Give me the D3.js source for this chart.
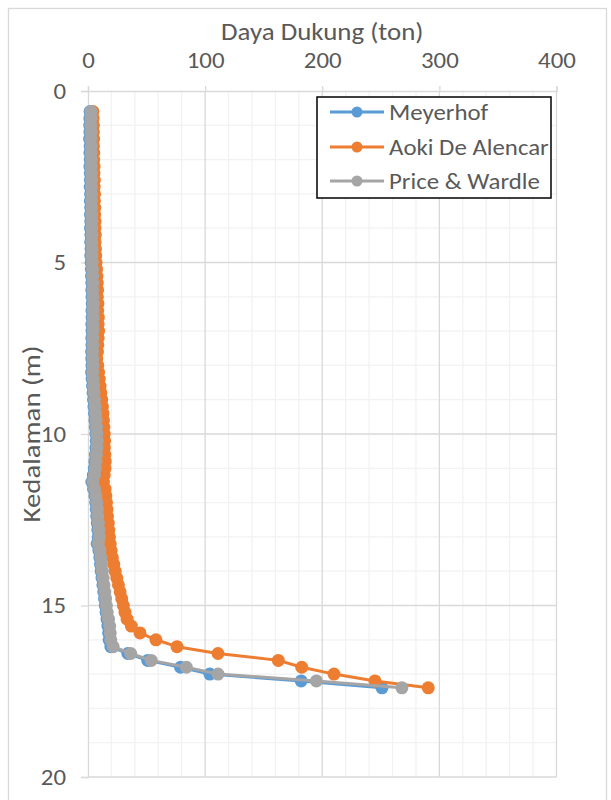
<!DOCTYPE html>
<html>
<head>
<meta charset="utf-8">
<script src="https://cdn.jsdelivr.net/npm/d3@7"></script>
<style>
  html, body { margin: 0; padding: 0; background: #fff; }
  svg { display: block; }
  text { font-family: Calibri, Carlito, Lato, "Open Sans", sans-serif; fill: #595959; }
</style>
</head>
<body>
<svg id="chart" width="611" height="800"></svg>
<script>
// Depth below ground level (m), sampled every 0.2 m
const depths = [
  0.6, 0.8, 1.0, 1.2, 1.4, 1.6, 1.8, 2.0, 2.2, 2.4,
  2.6, 2.8, 3.0, 3.2, 3.4, 3.6, 3.8, 4.0, 4.2, 4.4,
  4.6, 4.8, 5.0, 5.2, 5.4, 5.6, 5.8, 6.0, 6.2, 6.4,
  6.6, 6.8, 7.0, 7.2, 7.4, 7.6, 7.8, 8.0, 8.2, 8.4,
  8.6, 8.8, 9.0, 9.2, 9.4, 9.6, 9.8, 10.0, 10.2, 10.4,
  10.6, 10.8, 11.0, 11.2, 11.4, 11.6, 11.8, 12.0, 12.2, 12.4,
  12.6, 12.8, 13.0, 13.2, 13.4, 13.6, 13.8, 14.0, 14.2, 14.4,
  14.6, 14.8, 15.0, 15.2, 15.4, 15.6, 15.8, 16.0, 16.2, 16.4,
  16.6, 16.8, 17.0, 17.2, 17.4
];

// Bearing capacity (ton) per method
const meyerhof = [
  1.8, 1.6, 1.5, 1.7, 1.4, 1.8, 1.6, 1.9, 1.7, 2.0,
  2.1, 1.9, 2.2, 2.0, 2.3, 2.1, 2.4, 2.2, 2.5, 2.3,
  2.6, 2.4, 2.7, 2.9, 3.1, 3.3, 3.2, 3.4, 3.6, 3.4,
  3.5, 3.3, 3.4, 3.2, 3.3, 3.1, 3.2, 3.4, 3.1, 3.5,
  3.9, 4.3, 4.7, 5.1, 5.6, 6.0, 6.4, 6.7, 7.0, 6.8,
  6.3, 5.9, 5.4, 4.6, 3.3, 4.7, 5.9, 6.6, 7.1, 7.5,
  8.0, 8.4, 8.7, 7.8, 9.3, 10.1, 10.7, 11.3, 12.0, 12.7,
  13.4, 14.1, 14.8, 15.5, 16.3, 17.0, 17.6, 18.0, 19.5, 34,
  51, 79, 104, 182, 251
];

const aokiDeAlencar = [
  4.2, 4.4, 4.6, 4.5, 4.8, 4.7, 5.0, 4.9, 5.2, 5.1,
  5.4, 5.3, 5.6, 5.5, 5.8, 5.7, 6.0, 5.9, 6.2, 6.1,
  6.4, 6.6, 6.9, 7.3, 7.6, 7.9, 8.2, 8.0, 8.5, 8.3,
  8.8, 8.6, 9.0, 8.7, 8.4, 8.1, 7.5, 8.3, 9.0, 9.6,
  10.3, 11.0, 11.7, 12.3, 12.8, 13.2, 13.5, 13.9, 14.2, 14.0,
  14.4, 14.7, 14.5, 13.8, 13.2, 14.6, 15.3, 15.8, 16.2, 16.6,
  17.3, 17.8, 18.3, 19.0, 19.8, 20.8, 22.0, 23.2, 24.6, 26.0,
  27.4, 28.8, 30.2, 31.6, 33.4, 37.0, 44.4, 58, 76, 111,
  162.5, 182.5, 210, 245, 290.5
];

const priceWardle = [
  2.6, 2.5, 2.4, 2.6, 2.5, 2.7, 2.6, 2.8, 2.7, 2.9,
  3.0, 2.9, 3.1, 3.0, 3.2, 3.1, 3.3, 3.2, 3.4, 3.3,
  3.5, 3.4, 3.6, 3.8, 4.0, 4.2, 4.1, 4.3, 4.5, 4.3,
  4.4, 4.2, 4.3, 4.1, 4.2, 4.0, 4.1, 4.3, 4.0, 4.4,
  4.8, 5.2, 5.6, 6.0, 6.5, 6.9, 7.3, 7.6, 7.9, 7.7,
  7.2, 6.8, 6.3, 5.5, 4.2, 5.6, 6.8, 7.5, 8.0, 8.4,
  8.9, 9.3, 9.6, 8.8, 10.2, 11.0, 11.6, 12.2, 12.9, 13.6,
  14.3, 15.0, 15.7, 16.4, 17.5, 18.5, 19.0, 19.5, 21.5, 36.5,
  54, 84, 111, 195, 268
];

const seriesNames = ["Meyerhof", "Aoki De Alencar", "Price & Wardle"];
const seriesColors = ["#5B9BD5", "#ED7D31", "#A5A5A5"];
const xTicks = [0, 100, 200, 300, 400];
const yTicks = [0, 5, 10, 15, 20];
const xTitle = "Daya Dukung (ton)";
const yTitle = "Kedalaman (m)";

const series = [meyerhof, aokiDeAlencar, priceWardle].map((vals, i) => ({
  name: seriesNames[i],
  color: seriesColors[i],
  points: vals.map((v, j) => ({ x: v, d: depths[j] }))
}));

const svg = d3.select("#chart");
const plot = { left: 88, right: 556.5, top: 91, bottom: 777 };
// Calibri-like proportions: slightly wider glyphs than the fallback face
const stretch = 1.13;

const x = d3.scaleLinear().domain([0, 400]).range([plot.left, plot.right]);
const y = d3.scaleLinear().domain([0, 20]).range([plot.top, plot.bottom]);

// Chart area frame
svg.append("rect")
  .attr("x", 8.5).attr("y", 8.5)
  .attr("width", 598).attr("height", 800)
  .attr("fill", "#fff").attr("stroke", "#d9d9d9").attr("stroke-width", 1.3);

// Minor gridlines
const grid = svg.append("g");
grid.selectAll("line.minor-x")
  .data(d3.range(0, 401, 20).filter(v => v % 100 !== 0))
  .join("line")
  .attr("x1", d => x(d)).attr("x2", d => x(d))
  .attr("y1", plot.top).attr("y2", plot.bottom)
  .attr("stroke", "#f2f2f2").attr("stroke-width", 1.3);
grid.selectAll("line.minor-y")
  .data(d3.range(0, 21, 1).filter(v => v % 5 !== 0))
  .join("line")
  .attr("x1", plot.left).attr("x2", plot.right)
  .attr("y1", d => y(d)).attr("y2", d => y(d))
  .attr("stroke", "#f2f2f2").attr("stroke-width", 1.3);

// Major gridlines
grid.selectAll("line.major-x")
  .data(xTicks.slice(1))
  .join("line")
  .attr("x1", d => x(d)).attr("x2", d => x(d))
  .attr("y1", plot.top).attr("y2", plot.bottom)
  .attr("stroke", "#d9d9d9").attr("stroke-width", 1.3);
grid.selectAll("line.major-y")
  .data(yTicks.slice(1))
  .join("line")
  .attr("x1", plot.left).attr("x2", plot.right)
  .attr("y1", d => y(d)).attr("y2", d => y(d))
  .attr("stroke", "#d9d9d9").attr("stroke-width", 1.3);

// Axes: value axis along the top, depth axis on the left
const xAxis = svg.append("g")
  .attr("transform", `translate(0,${plot.top})`)
  .call(d3.axisTop(x).tickValues(xTicks).tickSize(5).tickPadding(18).tickFormat(d3.format("d")));
const yAxis = svg.append("g")
  .attr("transform", `translate(${plot.left},0)`)
  .call(d3.axisLeft(y).tickValues(yTicks).tickSize(7).tickPadding(15).tickFormat(d3.format("d")));

[xAxis, yAxis].forEach(ax => {
  ax.select(".domain").attr("stroke", "#d9d9d9").attr("stroke-width", 1.3);
  ax.selectAll(".tick line").attr("stroke", "#d9d9d9").attr("stroke-width", 1.3);
  ax.selectAll(".tick text")
    .attr("fill", "#595959")
    .style("font-family", "Calibri, Carlito, Lato, sans-serif")
    .style("font-size", "22px");
});
xAxis.selectAll(".tick text")
  .attr("transform", `scale(${stretch},1)`);
yAxis.selectAll(".tick text")
  .attr("transform", `translate(-22,0) scale(${stretch},1)`)
  .attr("x", 0);

// Axis titles
svg.append("text")
  .attr("transform", `translate(${(plot.left + plot.right) / 2},40) scale(1.12,1)`)
  .attr("text-anchor", "middle")
  .style("font-size", "24px")
  .text(xTitle);
svg.append("text")
  .attr("transform", `translate(40,${(plot.top + plot.bottom) / 2}) rotate(-90) scale(1.2,1)`)
  .attr("text-anchor", "middle")
  .style("font-size", "24px")
  .text(yTitle);

// Series: line then markers, drawn in legend order
const line = d3.line().x(p => x(p.x)).y(p => y(p.d));
series.forEach(s => {
  const g = svg.append("g");
  g.append("path")
    .attr("d", line(s.points))
    .attr("fill", "none")
    .attr("stroke", s.color)
    .attr("stroke-width", 3)
    .attr("stroke-linejoin", "round");
  g.selectAll("circle")
    .data(s.points)
    .join("circle")
    .attr("cx", p => x(p.x)).attr("cy", p => y(p.d))
    .attr("r", 6.5)
    .attr("fill", s.color);
});

// Legend
const legend = svg.append("g");
legend.append("rect")
  .attr("x", 317).attr("y", 97)
  .attr("width", 234).attr("height", 101)
  .attr("fill", "#fff").attr("stroke", "#000").attr("stroke-width", 1.5);
const rowY = [112, 147, 181];
series.forEach((s, i) => {
  const row = legend.append("g").attr("transform", `translate(0,${rowY[i]})`);
  row.append("line")
    .attr("x1", 330).attr("x2", 384).attr("y1", 0).attr("y2", 0)
    .attr("stroke", s.color).attr("stroke-width", 3);
  row.append("circle").attr("cx", 357).attr("cy", 0).attr("r", 5.5).attr("fill", s.color);
  row.append("text")
    .attr("transform", `translate(389,0) scale(${stretch},1)`)
    .attr("dy", "0.35em")
    .style("font-size", "22px")
    .text(s.name);
});
</script>
</body>
</html>
